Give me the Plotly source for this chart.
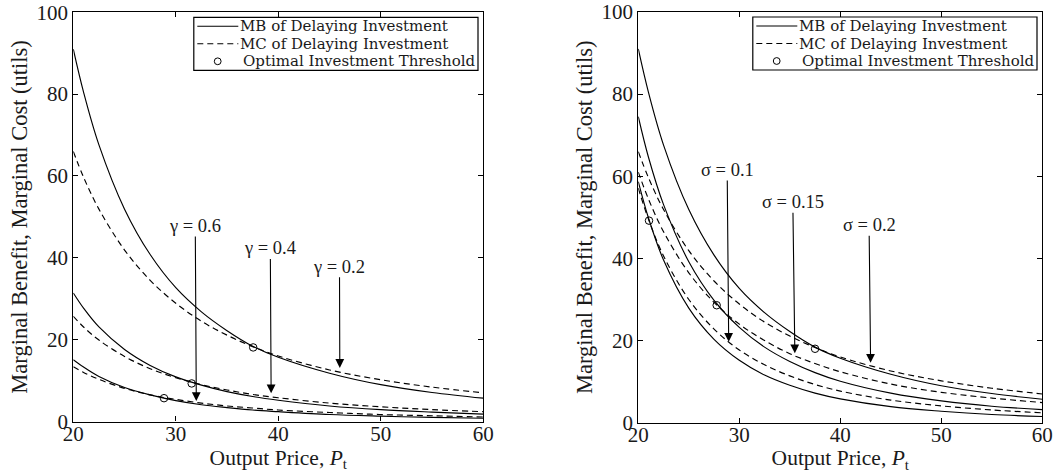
import plotly.graph_objects as go

# ---------------- data ----------------
price = [20, 21, 22.5, 25, 27.5, 30, 32.5, 35, 37.5, 40, 45, 50, 55, 60]

# left panel: different gamma
mb_gamma_02 = [91.0, 80.5, 67.6, 51.9, 40.8, 32.7, 26.8, 22.2, 18.4, 15.7, 11.8, 9.0, 7.1, 5.7]
mc_gamma_02 = [66.0, 59.7, 51.9, 41.9, 34.5, 28.9, 24.5, 21.1, 18.3, 16.0, 12.6, 10.2, 8.4, 7.0]
mb_gamma_04 = [31.4, 27.7, 23.1, 17.6, 13.7, 10.9, 8.9, 7.3, 6.1, 5.2, 3.8, 2.9, 2.3, 1.8]
mc_gamma_04 = [25.7, 23.1, 19.9, 15.9, 12.9, 10.7, 9.0, 7.7, 6.6, 5.8, 4.5, 3.6, 2.9, 2.4]
mb_gamma_06 = [15.1, 13.3, 11.0, 8.3, 6.5, 5.1, 4.1, 3.4, 2.8, 2.4, 1.7, 1.3, 1.0, 0.8]
mc_gamma_06 = [13.4, 12.0, 10.3, 8.1, 6.5, 5.4, 4.5, 3.8, 3.3, 2.8, 2.2, 1.7, 1.4, 1.1]
thr_gamma_x = [37.55, 31.55, 28.85]
thr_gamma_y = [18.1, 9.3, 5.7]

# right panel: different sigma
mb_sigma_02 = [91.0, 80.5, 67.6, 51.9, 40.8, 32.7, 26.8, 22.2, 18.4, 15.7, 11.8, 9.0, 7.1, 5.7]
mc_sigma_02 = [66.0, 59.7, 51.9, 41.9, 34.5, 28.9, 24.5, 21.1, 18.3, 16.0, 12.6, 10.2, 8.4, 7.0]
mb_sigma_015 = [74.5, 64.7, 53.1, 39.2, 29.8, 23.2, 18.4, 14.9, 12.2, 10.1, 7.2, 5.3, 4.0, 3.2]
mc_sigma_015 = [61.0, 54.5, 46.5, 36.5, 29.3, 24.0, 20.0, 16.8, 14.4, 12.4, 9.4, 7.4, 6.0, 4.9]
mb_sigma_01 = [58.7, 49.9, 39.6, 27.9, 20.3, 15.2, 11.6, 9.1, 7.2, 5.8, 3.9, 2.8, 2.0, 1.5]
mc_sigma_01 = [57.1, 49.6, 40.6, 30.0, 22.8, 17.7, 14.1, 11.4, 9.3, 7.7, 5.5, 4.1, 3.1, 2.4]
thr_sigma_x = [21.06, 27.76, 37.5]
thr_sigma_y = [49.2, 28.6, 18.0]

# labelled arrows: label position (arrow tail) and arrow tip
gamma_labels = ["γ = 0.6", "γ = 0.4", "γ = 0.2"]
gamma_label_x = [31.9, 39.22, 45.97]
gamma_label_y = [47.8, 42.3, 37.8]
gamma_tip_x = [32.0, 39.3, 46.0]
gamma_tip_y = [5.0, 6.9, 13.1]

sigma_labels = ["σ = 0.1", "σ = 0.15", "σ = 0.2"]
sigma_label_x = [28.8, 35.3, 42.85]
sigma_label_y = [61.5, 53.7, 48.1]
sigma_tip_x = [28.95, 35.5, 43.0]
sigma_tip_y = [19.7, 16.9, 14.6]

xticks = [20, 30, 40, 50, 60]
yticks = [0, 20, 40, 60, 80, 100]
legend_texts = ["MB of Delaying Investment", "MC of Delaying Investment",
                "Optimal Investment Threshold"]

# ---------------- layout constants ----------------
W, H = 1059, 473
ML, MR, MT, MB_ = 73, 16, 12, 50
PW, PH = W - ML - MR, H - MT - MB_
FONT = "Liberation Serif"
LEGFONT = "DejaVu Serif"
TXT = "#1a1a1a"

# panel boxes in page pixels (left, right, top, bottom)
left_box = (73.3, 483.3, 12.3, 421.5)
right_box = (638.3, 1042.3, 12.0, 422.7)


def dom_x(b):
    return [(b[0] - ML) / PW, (b[1] - ML) / PW]


def dom_y(b):
    return [(MT + PH - b[3]) / PH, (MT + PH - b[2]) / PH]


fig = go.Figure()

SOLID = dict(color="black", width=1.15)
DASH = dict(color="black", width=1.15, dash="6px,4px")


def add_curves(curves, thr_x, thr_y, xa, ya):
    for vals, style in curves:
        fig.add_trace(go.Scatter(x=price, y=vals, mode="lines", line=style,
                                 line_shape="spline", showlegend=False,
                                 hoverinfo="skip", xaxis=xa, yaxis=ya))
    fig.add_trace(go.Scatter(x=thr_x, y=thr_y, mode="markers",
                             marker=dict(symbol="circle-open", size=7.5, color="black",
                                         line=dict(width=1, color="black")),
                             showlegend=False, xaxis=xa, yaxis=ya))


add_curves([(mb_gamma_02, SOLID), (mc_gamma_02, DASH), (mb_gamma_04, SOLID),
            (mc_gamma_04, DASH), (mb_gamma_06, SOLID), (mc_gamma_06, DASH)],
           thr_gamma_x, thr_gamma_y, "x", "y")
add_curves([(mb_sigma_02, SOLID), (mc_sigma_02, DASH), (mb_sigma_015, SOLID),
            (mc_sigma_015, DASH), (mb_sigma_01, SOLID), (mc_sigma_01, DASH)],
           thr_sigma_x, thr_sigma_y, "x2", "y2")

annotations = []
shapes = []


def add_arrows(labels, lx, ly, hx, hy, xr, yr):
    for i, lab in enumerate(labels):
        annotations.append(dict(x=hx[i], y=hy[i], ax=lx[i], ay=ly[i], xref=xr, yref=yr,
                                axref=xr, ayref=yr, text=lab, showarrow=True,
                                arrowhead=2, arrowsize=1.6, arrowwidth=1.1,
                                arrowcolor="black", standoff=0, borderpad=0,
                                font=dict(family=FONT, size=18.5, color=TXT)))


add_arrows(gamma_labels, gamma_label_x, gamma_label_y, gamma_tip_x, gamma_tip_y, "x", "y")
add_arrows(sigma_labels, sigma_label_x, sigma_label_y, sigma_tip_x, sigma_tip_y, "x2", "y2")


def add_legend(box, xr, yr):
    w = box[1] - box[0]
    h = box[3] - box[2]

    def fx(off):  # pixel offset from right edge of the axes
        return 1 + off / w

    def fy(off):  # pixel offset from top edge of the axes
        return 1 - off / h

    xd, yd = xr + " domain", yr + " domain"
    shapes.append(dict(type="rect", xref=xd, yref=yd, x0=fx(-289.5), x1=fx(-5.3),
                       y0=fy(58.0), y1=fy(5), line=dict(color="black", width=1.2),
                       fillcolor="white", layer="above"))
    rows = [14.0, 31.5, 49.0]
    shapes.append(dict(type="line", xref=xd, yref=yd, x0=fx(-286), x1=fx(-245),
                       y0=fy(rows[0]), y1=fy(rows[0]), line=dict(color="black", width=1.1)))
    shapes.append(dict(type="line", xref=xd, yref=yd, x0=fx(-286), x1=fx(-245),
                       y0=fy(rows[1]), y1=fy(rows[1]),
                       line=dict(color="black", width=1.1, dash="6px,4px")))
    shapes.append(dict(type="circle", xref=xd, yref=yd, xsizemode="pixel",
                       ysizemode="pixel", xanchor=fx(-265.6), yanchor=fy(rows[2]),
                       x0=-3.4, x1=3.4, y0=-3.4, y1=3.4,
                       line=dict(color="black", width=1)))
    starts = [-244, -244, -241]
    for r, s, t in zip(rows, starts, legend_texts):
        annotations.append(dict(x=fx(s), y=fy(r), xref=xd, yref=yd, text=t,
                                showarrow=False, xanchor="left", yanchor="middle",
                                borderpad=0,
                                font=dict(family=LEGFONT, size=15, color=TXT)))


add_legend(left_box, "x", "y")
add_legend(right_box, "x2", "y2")

axis_common = dict(showline=True, linecolor="black", linewidth=1.2, mirror="ticks",
                   ticks="inside", ticklen=5, tickcolor="black", tickwidth=1,
                   showgrid=False, zeroline=False, automargin=False,
                   ticklabeloverflow="allow",
                   tickfont=dict(family=FONT, size=21, color=TXT))

xtitle = dict(text="Output Price, <i>P</i><sub>t</sub>",
              font=dict(family=FONT, size=21.5, color=TXT), standoff=4)
ytitle = dict(text="Marginal Benefit, Marginal Cost (utils)",
              font=dict(family=FONT, size=22.5, color=TXT), standoff=2)

fig.update_layout(
    width=W, height=H, template="none",
    margin=dict(l=ML, r=MR, t=MT, b=MB_),
    paper_bgcolor="white", plot_bgcolor="white",
    showlegend=False,
    xaxis=dict(domain=dom_x(left_box), range=[20, 60], tickvals=xticks,
               anchor="y", title=xtitle, ticklabelstandoff=-7, **axis_common),
    yaxis=dict(domain=dom_y(left_box), range=[0, 100], tickvals=yticks,
               anchor="x", title=ytitle, **axis_common),
    xaxis2=dict(domain=dom_x(right_box), range=[20, 60], tickvals=xticks,
                anchor="y2", title=xtitle, ticklabelstandoff=-7, **axis_common),
    yaxis2=dict(domain=dom_y(right_box), range=[0, 100], tickvals=yticks,
                anchor="x2", title=ytitle, **axis_common),
    annotations=annotations,
    shapes=shapes,
)

fig.write_html("out.html",
               config={"displayModeBar": False},
               post_script="document.body.style.margin='0';"
                           "document.body.style.overflow='hidden';")
